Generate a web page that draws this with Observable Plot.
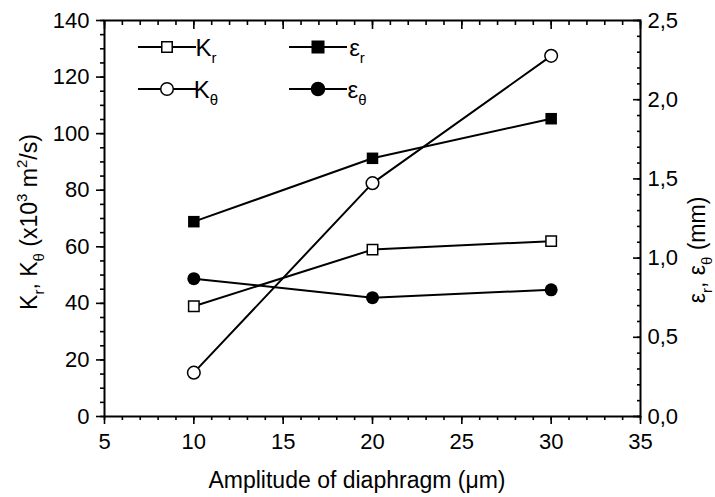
<!DOCTYPE html>
<html><head><meta charset="utf-8">
<script src="https://cdn.jsdelivr.net/npm/d3@7"></script>
<script src="https://cdn.jsdelivr.net/npm/@observablehq/plot@0.6"></script>
<style>
body{margin:0;background:#fff}
#chart svg{font-family:"Liberation Sans",Arial,sans-serif}
</style>
</head><body><div id="chart"></div>
<script>
// ---- data ----
const amplitude = [10, 20, 30];          // µm
const kR = [39, 59, 62];                 // x10^3 m²/s (left axis)
const kTheta = [15.5, 82.5, 127.5];      // x10^3 m²/s (left axis)
const epsR = [1.23, 1.63, 1.88];         // mm (right axis)
const epsTheta = [0.87, 0.75, 0.80];     // mm (right axis)

const xMajorTicks = [5, 10, 15, 20, 25, 30, 35];
const xMinorTicks = d3.range(5, 36, 1);
const yLeftMajorTicks = [0, 20, 40, 60, 80, 100, 120, 140];
const yLeftMinorTicks = d3.range(0, 141, 5);
const yRightMajorTicks = [0, 0.5, 1.0, 1.5, 2.0, 2.5];
const yRightMinorTicks = d3.range(0, 26, 1).map(v => v / 10);

const K_MAX = 140, EPS_MAX = 2.5;
const k = K_MAX / EPS_MAX; // maps right-axis units onto the left scale

const rows = amplitude.map((a, i) => ({
  a, kR: kR[i], kT: kTheta[i], eR: epsR[i] * k, eT: epsTheta[i] * k
}));

const FONT = "Liberation Sans, Arial, sans-serif";
const tickFont = 22;

const plot = Plot.plot({
  width: 715, height: 497,
  marginLeft: 104, marginRight: 75, marginTop: 20, marginBottom: 81,
  style: {fontFamily: FONT, fontSize: tickFont + "px", color: "black", background: "white", overflow: "visible"},
  x: {domain: [5, 35], axis: null},
  y: {domain: [0, K_MAX], axis: null},
  marks: [
    // left axis (outward ticks)
    Plot.axisY(yLeftMinorTicks, {anchor: "left", tickSize: 4, fill: "none", strokeWidth: 1.6, label: null}),
    Plot.axisY(yLeftMajorTicks, {anchor: "left", tickSize: 8, tickPadding: 7, strokeWidth: 1.6, label: null, fontSize: tickFont}),
    // bottom axis (outward ticks)
    Plot.axisX(xMinorTicks, {anchor: "bottom", tickSize: 4, fill: "none", strokeWidth: 1.6, label: null}),
    Plot.axisX(xMajorTicks, {anchor: "bottom", tickSize: 8, tickPadding: 9, strokeWidth: 1.6, label: null, fontSize: tickFont}),
    // top axis (inward ticks, no labels)
    Plot.axisX(xMinorTicks, {anchor: "top", tickSize: 4, dy: 4, fill: "none", strokeWidth: 1.6, label: null}),
    Plot.axisX(xMajorTicks, {anchor: "top", tickSize: 8, dy: 8, fill: "none", strokeWidth: 1.6, label: null}),
    // right axis (inward ticks, comma decimals)
    Plot.axisY(yRightMinorTicks.map(v => v * k), {anchor: "right", tickSize: 4, dx: -4, fill: "none", strokeWidth: 1.6, label: null}),
    Plot.axisY(yRightMajorTicks.map(v => v * k), {anchor: "right", tickSize: 8, dx: -8, fill: "none", strokeWidth: 1.6, label: null}),
    Plot.axisY(yRightMajorTicks.map(v => v * k), {anchor: "right", tickSize: 0, tickPadding: 7, label: null, fontSize: tickFont,
      tickFormat: d => (d / k).toFixed(1).replace(".", ",")}),
    Plot.frame({stroke: "black", strokeWidth: 2}),
    // series lines
    Plot.line(rows, {x: "a", y: "kR", stroke: "black", strokeWidth: 2}),
    Plot.line(rows, {x: "a", y: "kT", stroke: "black", strokeWidth: 2}),
    Plot.line(rows, {x: "a", y: "eR", stroke: "black", strokeWidth: 2}),
    Plot.line(rows, {x: "a", y: "eT", stroke: "black", strokeWidth: 2}),
    // markers
    Plot.dot(rows, {x: "a", y: "kR", symbol: "square", r: 5.9, fill: "white", stroke: "black", strokeWidth: 1.5}),
    Plot.dot(rows, {x: "a", y: "kT", symbol: "circle", r: 6.3, fill: "white", stroke: "black", strokeWidth: 1.5}),
    Plot.dot(rows, {x: "a", y: "eR", symbol: "square", r: 6.5, fill: "black"}),
    Plot.dot(rows, {x: "a", y: "eT", symbol: "circle", r: 6.5, fill: "black"})
  ]
});

document.getElementById("chart").appendChild(plot);

// ---- titles and legend (text with sub/superscripts) ----
const svg = d3.select(plot);

function richText(g, parts, attrs, size, sub) {
  const t = g.append("text").attr("font-family", FONT).attr("font-size", size).attr("fill", "black");
  Object.entries(attrs).forEach(([key, v]) => t.attr(key, v));
  let shift = 0;
  parts.forEach(([s, kind]) => {
    const ts = t.append("tspan").text(s);
    let target = 0;
    if (kind === "sub") { ts.attr("font-size", sub); target = Math.round(size * 0.3); }
    else if (kind === "sup") { ts.attr("font-size", sub); target = -Math.round(size * 0.42); }
    ts.attr("dy", target - shift);
    shift = target;
  });
  return t;
}

// x title
richText(svg, [["Amplitude of diaphragm (\u03bcm)"]], {x: 357, y: 488, "text-anchor": "middle"}, 23, 15);
// left y title
richText(svg, [["K"], ["r", "sub"], [", K"], ["\u03b8", "sub"], [" (x10"], ["3", "sup"], [" m"], ["2", "sup"], ["/s)"]],
  {transform: "translate(37,222) rotate(-90)", "text-anchor": "middle"}, 23, 15);
// right y title
richText(svg, [["\u03b5"], ["r", "sub"], [", \u03b5"], ["\u03b8", "sub"], [" (mm)"]],
  {transform: "translate(705,250) rotate(-90)", "text-anchor": "middle"}, 23, 15);

// legend
const legendItems = [
  {label: "K", sub: "r", sym: d3.symbolSquare, size: 5.9, fill: "white", col: 0, row: 0},
  {label: "K", sub: "\u03b8", sym: d3.symbolCircle, size: 6.3, fill: "white", col: 0, row: 1},
  {label: "\u03b5", sub: "r", sym: d3.symbolSquare, size: 6.5, fill: "black", col: 1, row: 0},
  {label: "\u03b5", sub: "\u03b8", sym: d3.symbolCircle, size: 6.5, fill: "black", col: 1, row: 1}
];
const lg = svg.append("g");
legendItems.forEach(it => {
  const x0 = 138 + it.col * 151, y0 = 47 + it.row * 42;
  lg.append("line").attr("x1", x0).attr("x2", x0 + 58).attr("y1", y0).attr("y2", y0)
    .attr("stroke", "black").attr("stroke-width", 2);
  lg.append("path").attr("d", d3.symbol(it.sym, it.size * it.size * Math.PI)())
    .attr("transform", `translate(${x0 + 29},${y0})`)
    .attr("fill", it.fill).attr("stroke", "black").attr("stroke-width", 1.5);
  richText(lg, [[it.label], [it.sub, "sub"]], {x: x0 + 68, y: y0 + 9}, 24, 15);
});
</script>
</body></html>
